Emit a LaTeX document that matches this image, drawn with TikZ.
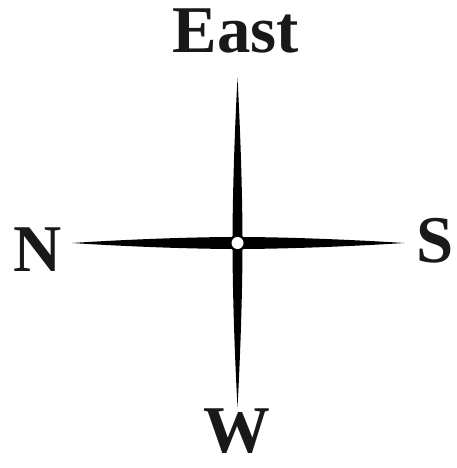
\documentclass[tikz,border=0pt]{standalone}
\usepackage{fontspec}
\setmainfont{Liberation Serif}
\usepackage{tikz}
\usetikzlibrary{calc}
\tikzset{
  dirlab/.style={font=\fontsize{19}{22}\selectfont\bfseries,text=black!90,
    inner sep=0pt,anchor=base},
  arm/.style={fill=black},
  hub/.style={fill=white}
}

\begin{document}
\begin{tikzpicture}
\useasboundingbox (0,0) rectangle (4.56,4.68);
\coordinate (C) at (2.375,2.25);
% ---------------- the four arms ----------------
\foreach \ang/\len/\wd in {90/1.65/0.05, 0/1.67/0.06, 270/1.64/0.05, 180/1.655/0.06}{
  \fill[arm,shift={(C)},rotate=\ang] (0,\wd)
    .. controls (0.45,\wd) and (1.1,0.6*\wd) .. (\len,0)
    .. controls (1.1,-0.6*\wd) and (0.45,-\wd) .. (0,-\wd) -- cycle;
}
\fill[arm] (C) circle (0.085);
\fill[hub] (C) circle (0.06);
% ---------------- labels ----------------
\node[dirlab] (east) at (2.36,4.15) {East};
\node[dirlab] (north) at (0.375,1.96) {N};
\node[dirlab,anchor=base east] (south) at (4.545,2.05) {S};
\node[dirlab] (west) at (2.365,0.15) {W};
\end{tikzpicture}
\end{document}
